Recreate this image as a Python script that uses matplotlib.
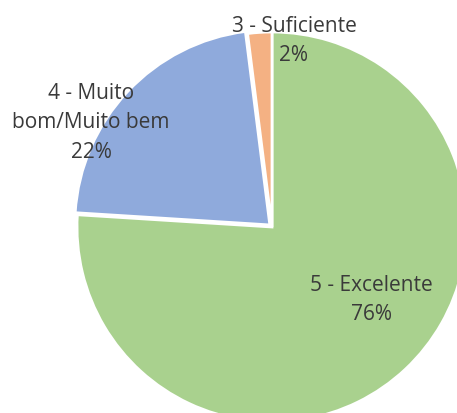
import matplotlib.pyplot as plt

# dados do gráfico (sentido horário a partir das 12h)
categories = ['5 - Excelente', '4 - Muito\nbom/Muito bem', '3 - Suficiente']
values = [76, 22, 2]
colors = ['#A9D18E', '#8FAADC', '#F4B183']
explode = [0, 3, 0]

# posições dos rótulos (em pixels, origem em baixo à esquerda)
label_pos = [(371, 114), (91, 291), (294, 373)]

W, H = 457, 414
fig = plt.figure(figsize=(W / 100, H / 100), dpi=100)
ax = fig.add_axes([0, 0, 1, 1])

ax.pie(values, colors=colors, startangle=90, counterclock=False,
       center=(272, H - 228), radius=195, explode=explode,
       wedgeprops=dict(edgecolor='white', linewidth=2), frame=True)

for cat, val, (x, y) in zip(categories, values, label_pos):
    ax.text(x, y, f"{cat}\n{val}%", ha='center', va='center',
            fontsize=15, color='#3a3a3a', family='Open Sans',
            linespacing=1.55)

ax.set_xlim(0, W)
ax.set_ylim(0, H)
ax.set_aspect('equal')
ax.axis('off')

fig.savefig('out.png', dpi=100)
